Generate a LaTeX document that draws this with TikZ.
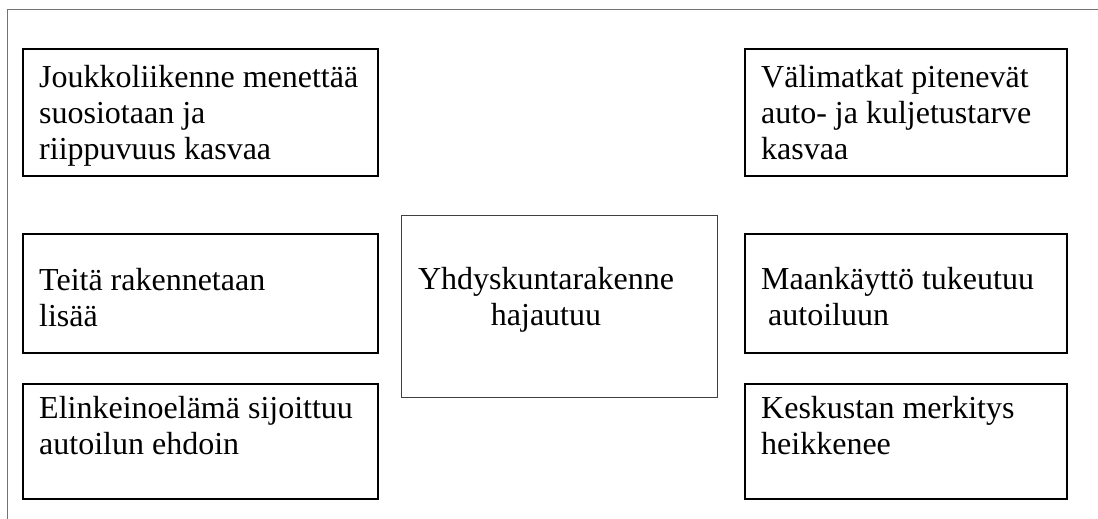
\documentclass[tikz,border=0pt]{standalone}
\usepackage{fontspec}
\setmainfont{Liberation Serif}
\begin{document}
\begin{tikzpicture}[x=1pt,y=-1pt,
 box/.style={draw=black, line width=1.8pt, rectangle, inner sep=0pt, anchor=north west, minimum width=355pt},
 cbox/.style={draw=black!75, line width=1pt, rectangle, inner sep=0pt, anchor=north west},
 txt/.style={font=\fontsize{32}{36}\selectfont, align=left, inner sep=0pt, anchor=base west},
 frameline/.style={draw=black!55, line width=1pt}]
\useasboundingbox (0,0) rectangle (1098,519);
% frame
\coordinate (fa) at (7,519);
\coordinate (fb) at (7,10);
\coordinate (fc) at (1098,10);
\draw[frameline] (fa) -- (fb) -- (fc);
% left column (text nodes anchored at the baseline of their last line)
\node[box, minimum height=127pt] (b1) at (22,48) {};
\node[txt] (t1) at (39,159) {Joukkoliikenne menettää\\suosiotaan ja\\riippuvuus kasvaa};
\node[box, minimum height=119pt] (b2) at (22,233) {};
\node[txt] (t2) at (39,326) {Teitä rakennetaan\\lisää};
\node[box, minimum height=115pt] (b3) at (22,383) {};
\node[txt] (t3) at (39,454) {Elinkeinoelämä sijoittuu\\autoilun ehdoin};
% right column
\node[box, minimum width=322pt, minimum height=127pt] (b4) at (744,48) {};
\node[txt] (t4) at (761,159) {Välimatkat pitenevät\\auto- ja kuljetustarve\\kasvaa};
\node[box, minimum width=322pt, minimum height=119pt] (b5) at (744,233) {};
\node[txt] (t5) at (761,325) {Maankäyttö tukeutuu\\\hspace*{7pt}autoiluun};
\node[box, minimum width=322pt, minimum height=115pt] (b6) at (744,383) {};
\node[txt] (t6) at (761,454) {Keskustan merkitys\\heikkenee};
% centre
\node[cbox, minimum width=316pt, minimum height=182pt] (c) at (401,215) {};
\node[txt, align=center, anchor=base] (ct) at (546,325) {Yhdyskuntarakenne\\hajautuu};
\end{tikzpicture}
\end{document}
